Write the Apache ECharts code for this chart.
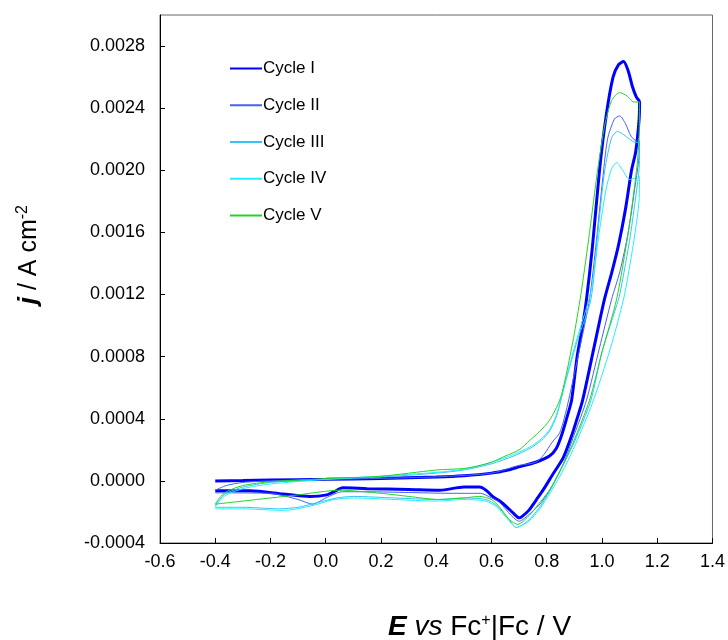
<!DOCTYPE html>
<html>
<head>
<meta charset="utf-8">
<script src="https://cdn.jsdelivr.net/npm/echarts@6/dist/echarts.min.js"></script>
<style>
  html, body { margin: 0; padding: 0; background: #fff; }
  #chart { width: 728px; height: 640px; }
</style>
</head>
<body>
<div id="chart"></div>
<script>
// cycle names and colours
const cycleNames = ['Cycle I', 'Cycle II', 'Cycle III', 'Cycle IV', 'Cycle V']
const cycleColors = ['#0000ff', '#4363ee', '#33c4f4', '#22eeff', '#22d422']

// [E / V, j / A cm-2], forward scan then reverse scan
const cycle1 = [
  [-0.40, 0.0000], [-0.30, 0.000003], [-0.20, 0.000006], [0.00, 0.00001], [0.20, 0.000016],
  [0.40, 0.000025], [0.50, 0.000033], [0.60, 0.00005], [0.66, 0.00007], [0.70, 0.00009],
  [0.76, 0.00012], [0.81, 0.00016], [0.835, 0.00021], [0.855, 0.0003], [0.875, 0.00042],
  [0.89, 0.00052], [0.91, 0.0008], [0.93, 0.001], [0.944, 0.00117], [0.965, 0.0015],
  [0.991, 0.002], [1.015, 0.00235], [1.04, 0.0026], [1.06, 0.00268], [1.078, 0.0027],
  [1.095, 0.00264], [1.11, 0.00254], [1.125, 0.00247], [1.136, 0.00244],
  [1.134, 0.00232], [1.122, 0.00212], [1.107, 0.002], [1.085, 0.00175], [1.06, 0.00152],
  [1.035, 0.00134], [1.009, 0.00117], [0.97, 0.00085], [0.93, 0.00052], [0.908, 0.00039],
  [0.89, 0.00029], [0.86, 0.00015], [0.821, 0.00004], [0.79, -0.00005], [0.763, -0.00012],
  [0.735, -0.00019], [0.71, -0.00023], [0.70, -0.000238], [0.68, -0.00021], [0.655, -0.000167],
  [0.63, -0.00013], [0.604, -0.0001], [0.58, -0.00006], [0.557, -0.00004], [0.50, -0.00004],
  [0.413, -0.00006], [0.30, -0.000055], [0.15, -0.00005], [0.062, -0.000045], [0.03, -0.00007],
  [0.004, -0.00009], [-0.058, -0.0001], [-0.155, -0.000084], [-0.274, -0.000064], [-0.40, -0.000064]
]
const cycle2 = [
  [-0.40, -0.00006], [-0.36, -0.00003], [-0.30, -0.00001], [-0.20, 0.0], [0.00, 0.00001],
  [0.20, 0.000016], [0.40, 0.000026], [0.60, 0.00005], [0.70, 0.0001], [0.76, 0.00012],
  [0.79, 0.00017], [0.82, 0.00025], [0.847, 0.00031], [0.87, 0.00045], [0.895, 0.00065],
  [0.925, 0.0009], [0.955, 0.00117], [0.98, 0.00155], [1.00, 0.0019], [1.02, 0.0022],
  [1.045, 0.00233], [1.064, 0.00235], [1.085, 0.0023], [1.105, 0.00222], [1.125, 0.00219],
  [1.136, 0.00219],
  [1.134, 0.00208], [1.12, 0.0019], [1.095, 0.0016], [1.065, 0.00135], [1.035, 0.00117],
  [0.99, 0.00085], [0.944, 0.00052], [0.90, 0.0003], [0.86, 0.00011], [0.82, -0.00003],
  [0.78, -0.00014], [0.74, -0.00021], [0.70, -0.00026], [0.67, -0.00022], [0.63, -0.00014],
  [0.60, -0.00011], [0.56, -0.00008], [0.45, -0.00008], [0.30, -0.000075], [0.15, -0.00007],
  [0.06, -0.00007], [0.00, -0.00011], [-0.047, -0.00015], [-0.10, -0.00012], [-0.20, -0.00008],
  [-0.40, -0.000077]
]
const cycle3 = [
  [-0.40, -0.00016], [-0.385, -0.00012], [-0.36, -0.00008], [-0.30, -0.00004], [-0.20, -0.00001],
  [0.00, 0.00001], [0.20, 0.000025], [0.40, 0.00005], [0.50, 0.00007], [0.60, 0.00011],
  [0.68, 0.00016], [0.74, 0.00021], [0.78, 0.00026], [0.81, 0.00032], [0.836, 0.00042],
  [0.87, 0.00065], [0.91, 0.0009], [0.96, 0.00117], [0.985, 0.0016], [1.01, 0.002],
  [1.035, 0.00221], [1.056, 0.00225], [1.078, 0.00223], [1.10, 0.0022], [1.12, 0.00218],
  [1.136, 0.00218],
  [1.134, 0.002], [1.12, 0.0018], [1.10, 0.00155], [1.07, 0.00125], [1.06, 0.00117],
  [1.00, 0.00083], [0.96, 0.00052], [0.90, 0.00025], [0.85, 0.00007], [0.81, -0.00007],
  [0.77, -0.00018], [0.73, -0.00026], [0.69, -0.0003], [0.66, -0.00024], [0.62, -0.00016],
  [0.58, -0.00012], [0.50, -0.00011], [0.40, -0.00012], [0.25, -0.00011], [0.10, -0.0001],
  [0.04, -0.00011], [-0.03, -0.00014], [-0.10, -0.00017], [-0.17, -0.00018], [-0.30, -0.00017],
  [-0.40, -0.00017]
]
const cycle4 = [
  [-0.40, -0.00017], [-0.385, -0.00013], [-0.36, -0.00009], [-0.30, -0.00005], [-0.20, -0.00002],
  [0.00, 0.00001], [0.20, 0.00003], [0.40, 0.000055], [0.50, 0.000075], [0.60, 0.00012],
  [0.68, 0.00017], [0.74, 0.00022], [0.78, 0.00027], [0.81, 0.00033], [0.836, 0.00043],
  [0.87, 0.00066], [0.91, 0.00092], [0.96, 0.00122], [0.99, 0.0016], [1.015, 0.00188],
  [1.035, 0.00201], [1.053, 0.00205], [1.075, 0.002], [1.10, 0.00194], [1.12, 0.00195],
  [1.136, 0.00196],
  [1.134, 0.0018], [1.12, 0.0016], [1.10, 0.00138], [1.078, 0.00117], [1.03, 0.00085],
  [0.965, 0.0005], [0.905, 0.00024], [0.86, 0.00007], [0.815, -0.00007], [0.775, -0.00018],
  [0.735, -0.00026], [0.69, -0.0003], [0.66, -0.00025], [0.62, -0.00017], [0.58, -0.00013],
  [0.50, -0.00012], [0.40, -0.00013], [0.25, -0.00012], [0.10, -0.00011], [0.03, -0.00012],
  [-0.05, -0.00016], [-0.15, -0.00019], [-0.30, -0.00018], [-0.40, -0.00018]
]
const cycle5 = [
  [-0.40, -0.00015], [-0.385, -0.00011], [-0.36, -0.00007], [-0.30, -0.00003], [-0.20, -0.000005],
  [-0.10, 0.000005], [0.00, 0.000015], [0.20, 0.00003], [0.40, 0.00007], [0.50, 0.00008],
  [0.56, 0.0001], [0.60, 0.00012], [0.65, 0.00016], [0.70, 0.0002], [0.738, 0.00026],
  [0.77, 0.00031], [0.81, 0.00039], [0.847, 0.00052], [0.87, 0.00068], [0.90, 0.00095],
  [0.926, 0.00123], [0.955, 0.0016], [0.984, 0.002], [1.01, 0.00229], [1.035, 0.00245],
  [1.064, 0.0025], [1.09, 0.00248], [1.115, 0.00244], [1.136, 0.00244],
  [1.134, 0.0022], [1.125, 0.002], [1.095, 0.0016], [1.053, 0.00117], [1.00, 0.00083],
  [0.955, 0.00052], [0.894, 0.00024], [0.85, 0.00007], [0.81, -0.00006], [0.77, -0.00015],
  [0.738, -0.00022], [0.695, -0.00028], [0.665, -0.00025], [0.63, -0.00017], [0.60, -0.00012],
  [0.557, -0.0001], [0.50, -0.00011], [0.41, -0.00012], [0.30, -0.0001], [0.20, -0.00008],
  [0.05, -0.00006], [-0.10, -0.00009], [-0.25, -0.00012], [-0.40, -0.00015]
]
const cycles = [cycle1, cycle2, cycle3, cycle4, cycle5]
const lineWidths = [3, 1, 1, 1, 1]

const chart = echarts.init(document.getElementById('chart'))
const font = 'Liberation Sans, Arial, sans-serif'

chart.setOption({
  animation: false,
  textStyle: { fontFamily: font },
  grid: {
    left: 160, right: 15, top: 15, bottom: 97,
    show: true, borderColor: '#666', borderWidth: 1
  },
  legend: {
    orient: 'vertical',
    left: 229, top: 60, padding: 0,
    itemWidth: 32, itemHeight: 14, itemGap: 19.75,
    data: cycleNames,
    itemStyle: { opacity: 0, borderWidth: 0 },
    textStyle: { fontSize: 17, lineHeight: 14, color: '#000', fontFamily: font, padding: [0, 0, 0, -4] }
  },
  xAxis: {
    type: 'value',
    min: -0.6, max: 1.4, interval: 0.2,
    axisLine: { onZero: false, lineStyle: { color: '#000', width: 1 } },
    axisTick: { inside: true, length: 5, lineStyle: { color: '#000' } },
    axisLabel: { fontSize: 18, color: '#000', margin: 10, formatter: v => v.toFixed(1) },
    splitLine: { show: false }
  },
  yAxis: {
    type: 'value',
    min: -0.0004, max: 0.003, interval: 0.0004,
    axisLine: { show: true, onZero: false, lineStyle: { color: '#000', width: 1 } },
    axisTick: { show: true, inside: true, length: 5, lineStyle: { color: '#000' } },
    axisLabel: { fontSize: 18, color: '#000', margin: 15, showMaxLabel: false, formatter: v => v.toFixed(4) },
    splitLine: { show: false }
  },
  series: cycles.map((d, i) => ({
    name: cycleNames[i],
    type: 'line',
    data: d,
    showSymbol: false,
    symbol: 'none',
    smooth: 0.25,
    color: cycleColors[i],
    lineStyle: { width: lineWidths[i], color: cycleColors[i] },
    z: 2 + (i === 0 ? 0 : 1)
  })),
  graphic: [
    {
      type: 'text',
      left: 15, top: 205,
      rotation: Math.PI / 2,
      style: {
        text: '{b|j}{n| / A cm}{s|-2}',
        rich: {
          b: { fontSize: 26, fontWeight: 'bold', fontStyle: 'italic', fontFamily: font, fill: '#000' },
          n: { fontSize: 25, fontFamily: font, fill: '#000' },
          s: { fontSize: 16, fontFamily: font, fill: '#000', verticalAlign: 'top', padding: [0, 0, 12, 0] }
        }
      }
    },
    {
      type: 'text',
      left: 388, top: 613,
      style: {
        text: '{b|E}{i| vs}{n| Fc}{s|+}{n||Fc / V}',
        rich: {
          b: { fontSize: 28, fontWeight: 'bold', fontStyle: 'italic', fontFamily: font, fill: '#000' },
          i: { fontSize: 28, fontStyle: 'italic', fontFamily: font, fill: '#000' },
          n: { fontSize: 28, fontFamily: font, fill: '#000' },
          s: { fontSize: 16, fontFamily: font, fill: '#000', verticalAlign: 'top', padding: [0, 0, 12, 0] }
        }
      }
    }
  ]
})
</script>
</body>
</html>
